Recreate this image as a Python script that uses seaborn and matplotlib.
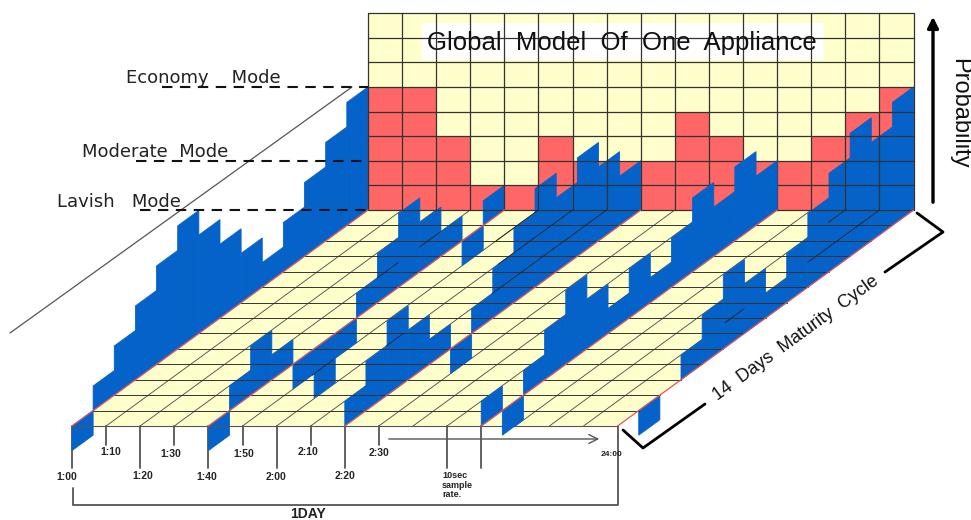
import matplotlib
matplotlib.use("Agg")
import matplotlib.pyplot as plt
import numpy as np
import seaborn as sns
from matplotlib.patches import Rectangle

# wall: probability level reached in each time slot
wall_levels = [5, 5, 3, 1, 1, 3, 2, 2, 2, 4, 3, 2, 2, 3, 4, 5]

# blue profiles, one per diagonal, one value per day (front to back)
profile_a = [-1, 1, 2, 3, 4, 5, 4, 3, 2, 1, 2, 3, 4, 5]
profile_b = [-1, 1, 2, 1, -1, -2, -1, 1, 2, 3, 2, 1, -1, 1]
profile_c = [1, 2, 3, 2, 1, -1, 1, 2, 3, 4, 3, 4, 3, 2]
profile_d = [1, -1, 1, 2, 3, 2, 1, 2, 1, 2, 3, 2, 3, 2]
profile_e = [0, -1, 0, 1, 2, 3, 2, 1, 2, 3, 4, 5, 4, 5]
profile_slots = [0, 4, 8, 12, 16]

# bits of the floor diagonals that stay visible on top of the blue
over_slot = [5, 3, 3, 6, 6, 7, 5, 15, 15, 14]
over_from = [3.3, 9.6, 11.6, 5.2, 10.5, 8.6, 12.0, 6.7, 10.6, 13.2]
over_to = [4.3, 10.6, 12.6, 6.0, 14.0, 14.0, 14.0, 7.6, 14.0, 14.0]

n_slots = 16
n_days = 14
n_levels = 8

long_ticks = ["1:00", "1:20", "1:40", "2:00", "2:20"]
short_ticks = ["1:10", "1:30", "1:50", "2:10", "2:30"]
mode_names = ["Economy    Mode", "Moderate  Mode", "Lavish   Mode"]
mode_levels = [5, 2, 0]

YELLOW = "#FFFFCC"
RED = "#FF6666"
BLUE = "#0562C8"
LINE = "#333333"
GRAY = "#555555"

sns.set_theme(style="white")
plt.rcParams["font.family"] = ["Liberation Sans", "DejaVu Sans"]


def project(slot, day=0.0, level=0.0):
    # oblique view, in image pixels
    x = 72 + 34.1 * slot + 21.14 * day
    y = 426 - 15.43 * day - 24.6 * level
    return x, y


fig = plt.figure(figsize=(9.71, 5.2), dpi=100)

wall_x, wall_y = project(0, n_days, 0)
wall_right, wall_top = project(n_slots, n_days, n_levels)
ax_wall = fig.add_axes([wall_x / 971, 1 - wall_y / 520,
                        (wall_right - wall_x) / 971, (wall_y - wall_top) / 520])
cells = np.array([[1 if n_levels - r <= lv else 0 for lv in wall_levels] for r in range(n_levels)])
sns.heatmap(cells, ax=ax_wall, cmap=[YELLOW, RED], cbar=False, vmin=0, vmax=1,
            xticklabels=False, yticklabels=False, linewidths=0)

ax = fig.add_axes([0, 0, 1, 1], zorder=5)
ax.set_xlim(0, 971)
ax.set_ylim(520, 0)
ax.axis("off")
ax.patch.set_alpha(0)

# floor
corners = [project(0, 0), project(n_slots, 0), project(n_slots, n_days), project(0, n_days)]
ax.fill(*zip(*corners), color=YELLOW, lw=0, zorder=1)

# white box behind the title
ax.add_patch(Rectangle((422, 23), 402, 37, color="white", lw=0, zorder=1.2))

# blue profiles, the fourth one hides the grid
all_profiles = [profile_a, profile_b, profile_c, profile_d, profile_e]
for slot, profile in zip(profile_slots, all_profiles):
    z = 4 if slot == 12 else 2
    for day, level in enumerate(profile):
        if level == 0:
            continue
        quad = [project(slot, day), project(slot, day + 1),
                project(slot, day + 1, level), project(slot, day, level)]
        ax.fill(*zip(*quad), facecolor=BLUE, edgecolor=BLUE, lw=0.6, zorder=z)

# wall grid
for c in range(n_slots + 1):
    ax.plot(*zip(project(c, n_days, 0), project(c, n_days, n_levels)), color=LINE, lw=0.9, zorder=3)
for lv in range(n_levels + 1):
    ax.plot(*zip(project(0, n_days, lv), project(n_slots, n_days, lv)), color=LINE, lw=0.9, zorder=3)

# floor grid
for d in range(1, n_days + 1):
    ax.plot(*zip(project(0, d), project(n_slots, d)), color=LINE, lw=0.7, zorder=3)
for c in range(n_slots + 1):
    if c % 4:
        ax.plot(*zip(project(c, 0), project(c, n_days)), color="#444444", lw=0.6, zorder=1.5)
for c, d0, d1 in zip(over_slot, over_from, over_to):
    ax.plot(*zip(project(c, d0), project(c, d1)), color="#222222", lw=0.6, zorder=3)
ax.plot(*zip(project(0, 0), project(n_slots, 0)), color=GRAY, lw=0.8, zorder=3)
for slot in profile_slots:
    ax.plot(*zip(project(slot, 0), project(slot, n_days)), color="#e8505a", lw=0.9, zorder=4.5)

# mode lines
for name, level, x0, tx, ty in zip(mode_names, mode_levels, [162, 136, 140], [126, 82, 57], [78, 152, 202]):
    y = project(0, n_days, level)[1]
    ax.plot([x0, wall_x], [y, y], color="#111111", lw=1.5, dashes=(5, 3.6), zorder=4.5)
    ax.text(tx, ty, name, fontsize=13, family="DejaVu Sans", color="#222222", ha="left", va="center", zorder=6)
ax.plot([10, 352], [333, 87], color=GRAY, lw=0.9, zorder=1)

# title and axis names
ax.text(622, 43, "Global  Model  Of  One  Appliance", fontsize=18.5, color="#111111",
        ha="center", va="center", zorder=6)
ax.annotate("", xy=(933, 14), xytext=(933, 205),
            arrowprops=dict(arrowstyle="-|>", color="black", lw=2.4, mutation_scale=16))
ax.text(959, 113, "Probability", fontsize=17, rotation=270, color="#111111", ha="center", va="center")

# maturity bracket
ax.plot([623, 643, 705], [430, 448, 404], color="black", lw=2)
ax.plot([885, 943, 917], [272, 232, 213], color="black", lw=2)
ax.text(796, 338, "14  Days  Maturity  Cycle", fontsize=13, rotation=36, rotation_mode="anchor",
        color="#111111", ha="center", va="center")

# time ticks under the floor
tick_font = dict(fontsize=7.5, fontweight="bold", color="#222222", ha="center", va="center")
long_label_pos = [(67, 477), (143, 476), (207, 477), (276, 477), (345, 476)]
short_label_pos = [(111, 452), (171, 454), (244, 454), (308, 452), (379, 453)]
for i, (label, pos) in enumerate(zip(long_ticks, long_label_pos)):
    x = project(2 * i)[0]
    ax.plot([x, x], [426, 468], color=GRAY, lw=1.3, zorder=1)
    ax.text(pos[0], pos[1], label, **tick_font)
for i, (label, pos) in enumerate(zip(short_ticks, short_label_pos)):
    x = project(2 * i + 1)[0]
    ax.plot([x, x], [426, 445], color=GRAY, lw=1.3, zorder=1)
    ax.text(pos[0], pos[1], label, **tick_font)
for c in [11, 12]:
    x = project(c)[0]
    ax.plot([x, x], [426, 468], color=GRAY, lw=1.3, zorder=1)
ax.text(442, 485, "10sec\nsample\nrate.", fontsize=6.5, fontweight="bold", color="#222222",
        ha="left", va="center", linespacing=1.1)
ax.text(612, 455, "24:00", fontsize=6, fontweight="bold", color="#222222", ha="center", va="center")

ax.annotate("", xy=(602, 439), xytext=(386, 439),
            arrowprops=dict(arrowstyle="->", color=GRAY, lw=1.0, mutation_scale=16))

# one day bracket
day_right = project(n_slots)[0]
ax.plot([73, 73, day_right, day_right], [488, 505, 505, 426], color=GRAY, lw=1.3, zorder=1)
ax.text(308, 514, "1DAY", fontsize=10, fontweight="bold", color="#222222", ha="center", va="center")

fig.savefig("out.png", dpi=100, facecolor="white")
